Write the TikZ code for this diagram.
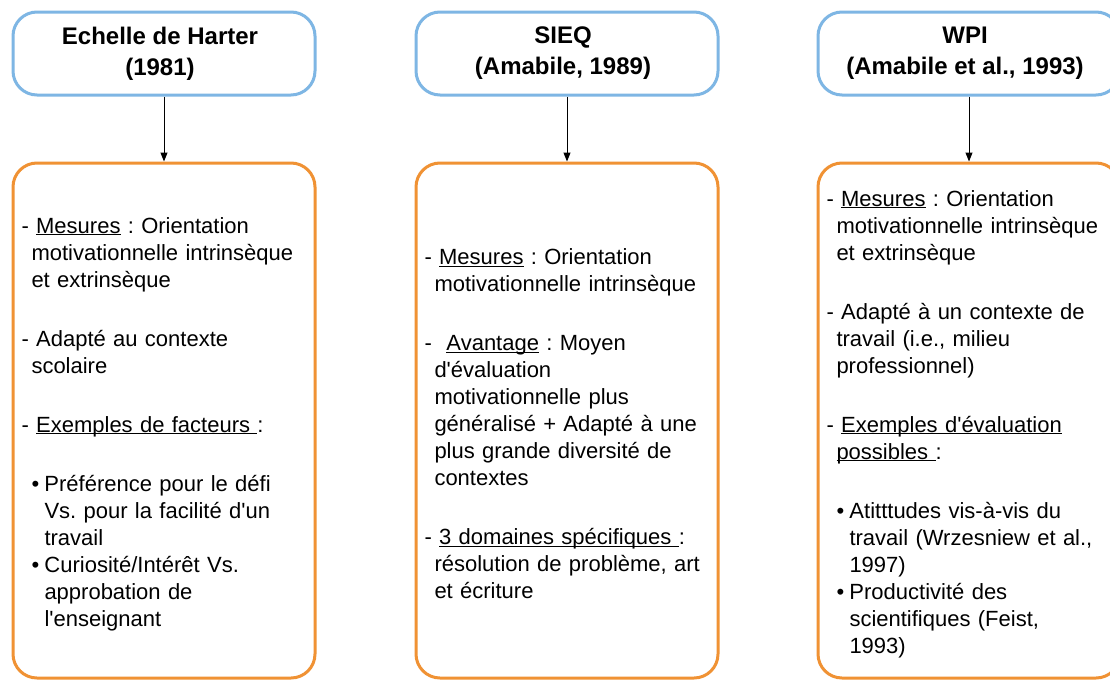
\documentclass[tikz,border=0pt]{standalone}
\usepackage{fontspec}
\setmainfont{Liberation Sans}[Ligatures=TeXOff]
\usetikzlibrary{arrows.meta}
\usepackage{xcolor}
\definecolor{bleucadre}{RGB}{126,182,228}
\definecolor{orangecadre}{RGB}{240,146,52}
\frenchspacing
\newcommand{\souligne}[1]{\underline{\smash{#1}}}
\newcommand{\retrait}{\hspace*{10pt}}
\newcommand{\puce}{\hspace*{10pt}\makebox[13pt][l]{•}}
\newcommand{\suite}{\hspace*{23pt}}
\newcommand{\decale}{\hspace*{-8pt}}

\begin{document}
\begin{tikzpicture}[x=1pt,y=-1pt,
  titre/.style={draw=bleucadre, line width=3pt, rounded corners=24pt, minimum width=302pt, minimum height=83pt, align=center, font=\fontsize{24}{31}\selectfont\bfseries},
  contenu/.style={draw=orangecadre, line width=3pt, rounded corners=24pt, minimum width=302pt, minimum height=515pt, text width=285pt, inner xsep=8.5pt, align=left, font=\fontsize{22}{27}\selectfont, execute at begin node={\rule{0pt}{23pt}}},
  fleche/.style={-{Triangle[length=9pt,width=7pt]}, line width=1pt}]
\useasboundingbox (0,0) rectangle (1110,680);
\clip (0,0) rectangle (1110,680);
\fill[white] (0,0) rectangle (1110,680);
% en-tetes
\node[titre] (harter) at (164,53.5) {\decale Echelle de Harter\\\decale(1981)};
\node[titre] (sieq) at (567,53.5) {\decale SIEQ\\\decale(Amabile, 1989)};
\node[titre] (wpi) at (969,53.5) {\decale WPI\\\decale(Amabile et al., 1993)};
% descriptions
\node[contenu] (harterdesc) at (164,420.5) {- \souligne{Mesures} : Orientation\\
\retrait motivationnelle intrinsèque\\
\retrait et extrinsèque\\[32pt]
- Adapté au contexte\\
\retrait scolaire\\[32pt]
- \souligne{Exemples de facteurs\ }:\\[32pt]
\puce Préférence pour le défi\\
\suite Vs. pour la facilité d'un\\
\suite travail\\
\puce Curiosité/Intérêt Vs.\\
\suite approbation de\\
\suite l'enseignant};
\node[contenu] (sieqdesc) at (567,420.5) {- \souligne{Mesures} : Orientation\\
\retrait motivationnelle intrinsèque\\[32pt]
-\ \ \souligne{Avantage} : Moyen\\
\retrait d'évaluation\\
\retrait motivationnelle plus\\
\retrait généralisé + Adapté à une\\
\retrait plus grande diversité de\\
\retrait contextes\\[32pt]
- \souligne{3 domaines spécifiques\ }:\\
\retrait résolution de problème, art\\
\retrait et écriture};
\node[contenu] (wpidesc) at (969,420.5) {- \souligne{Mesures} : Orientation\\
\retrait motivationnelle intrinsèque\\
\retrait et extrinsèque\\[32pt]
- Adapté à un contexte de\\
\retrait travail (i.e., milieu\\
\retrait professionnel)\\[32pt]
- \souligne{Exemples d'évaluation}\\
\retrait \souligne{possibles\ }:\\[32pt]
\puce Atitttudes vis-à-vis du\\
\suite travail (Wrzesniew et al.,\\
\suite 1997)\\
\puce Productivité des\\
\suite scientifiques (Feist,\\
\suite 1993)};
% fleches
\draw[fleche] (harter) -- (harterdesc);
\draw[fleche] (sieq) -- (sieqdesc);
\draw[fleche] (wpi) -- (wpidesc);
\end{tikzpicture}
\end{document}
